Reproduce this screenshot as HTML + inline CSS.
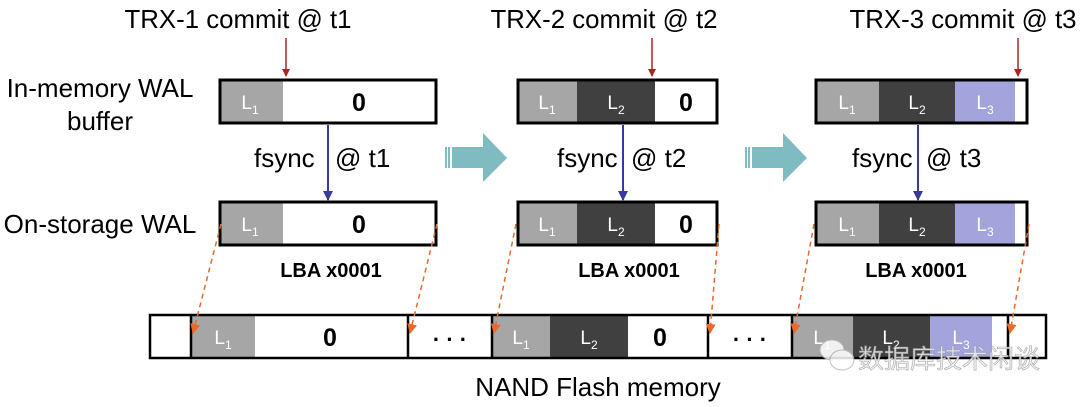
<!DOCTYPE html>
<html><head><style>
body{margin:0;background:#fff}
svg{display:block}
text{font-family:"Liberation Sans","Noto Sans CJK SC",sans-serif}
</style></head><body>
<svg width="1080" height="407" viewBox="0 0 1080 407" xmlns="http://www.w3.org/2000/svg">
<defs>
<marker id="ar" markerWidth="8" markerHeight="8" refX="7" refY="4" orient="auto" markerUnits="userSpaceOnUse"><path d="M0,0 L8,4 L0,8z" fill="#b22222"/></marker>
<marker id="ab" markerWidth="10" markerHeight="10" refX="9" refY="5" orient="auto" markerUnits="userSpaceOnUse"><path d="M0,0 L10,5 L0,10z" fill="#3a3a9a"/></marker>
<marker id="ao" markerWidth="10" markerHeight="10" refX="9" refY="5" orient="auto" markerUnits="userSpaceOnUse"><path d="M0,0 L10,5 L0,10z" fill="#e8692a"/></marker>
</defs>
<g font-size="26" fill="#000">
<text x="238" y="28" text-anchor="middle" textLength="227" lengthAdjust="spacingAndGlyphs">TRX-1 commit @ t1</text>
<text x="604" y="28" text-anchor="middle" textLength="227" lengthAdjust="spacingAndGlyphs">TRX-2 commit @ t2</text>
<text x="963" y="28" text-anchor="middle" textLength="227" lengthAdjust="spacingAndGlyphs">TRX-3 commit @ t3</text>
<text x="100" y="97" text-anchor="middle">In-memory WAL</text>
<text x="100" y="130" text-anchor="middle">buffer</text>
<text x="100" y="233" text-anchor="middle">On-storage WAL</text>
<text x="254" y="167">fsync</text><text x="335" y="167">@ t1</text>
<text x="557" y="167">fsync</text><text x="631" y="167">@ t2</text>
<text x="852" y="167">fsync</text><text x="926" y="167">@ t3</text>
<text x="598" y="396" text-anchor="middle">NAND Flash memory</text>
</g>
<g font-size="20" font-weight="bold" text-anchor="middle">
<text x="331" y="277">LBA x0001</text>
<text x="629" y="277">LBA x0001</text>
<text x="916" y="277">LBA x0001</text>
</g>
<line x1="286" y1="38" x2="286" y2="76" stroke="#b22222" stroke-width="1.5" marker-end="url(#ar)"/>
<line x1="652" y1="38" x2="652" y2="76" stroke="#b22222" stroke-width="1.5" marker-end="url(#ar)"/>
<line x1="1018" y1="38" x2="1018" y2="76" stroke="#b22222" stroke-width="1.5" marker-end="url(#ar)"/>
<line x1="328" y1="125" x2="328" y2="200" stroke="#3a3a9a" stroke-width="2" marker-end="url(#ab)"/>
<line x1="623" y1="125" x2="623" y2="200" stroke="#3a3a9a" stroke-width="2" marker-end="url(#ab)"/>
<line x1="918" y1="125" x2="918" y2="200" stroke="#3a3a9a" stroke-width="2" marker-end="url(#ab)"/>
<g fill="#7fbcc2">
<path d="M452,147 L483,147 L483,133 L507,158 L483,182 L483,168 L452,168z"/>
<rect x="445" y="147" width="2" height="21"/><rect x="448" y="147" width="2" height="21"/>
<path d="M752,147 L783,147 L783,133 L807,158 L783,182 L783,168 L752,168z"/>
<rect x="745" y="147" width="2" height="21"/><rect x="748" y="147" width="2" height="21"/>
</g>
<rect x="220" y="80" width="63" height="43" fill="#a6a6a6"/>
<rect x="220" y="80" width="216" height="43" fill="none" stroke="#000" stroke-width="3"/>
<rect x="220" y="202" width="63" height="43" fill="#a6a6a6"/>
<rect x="220" y="202" width="216" height="43" fill="none" stroke="#000" stroke-width="3"/>
<rect x="518" y="80" width="59" height="43" fill="#a6a6a6"/><rect x="577" y="80" width="78" height="43" fill="#404040"/>
<rect x="518" y="80" width="199" height="43" fill="none" stroke="#000" stroke-width="3"/>
<rect x="518" y="202" width="59" height="43" fill="#a6a6a6"/><rect x="577" y="202" width="78" height="43" fill="#404040"/>
<rect x="518" y="202" width="199" height="43" fill="none" stroke="#000" stroke-width="3"/>
<rect x="816" y="80" width="63" height="43" fill="#a6a6a6"/><rect x="879" y="80" width="76" height="43" fill="#404040"/><rect x="955" y="80" width="60" height="43" fill="#a4a4dc"/>
<rect x="816" y="80" width="211" height="43" fill="none" stroke="#000" stroke-width="3"/>
<rect x="816" y="202" width="63" height="43" fill="#a6a6a6"/><rect x="879" y="202" width="76" height="43" fill="#404040"/><rect x="955" y="202" width="60" height="43" fill="#a4a4dc"/>
<rect x="816" y="202" width="211" height="43" fill="none" stroke="#000" stroke-width="3"/>
<rect x="191" y="315" width="64" height="43" fill="#a6a6a6"/>
<rect x="492" y="315" width="58" height="43" fill="#a6a6a6"/><rect x="550" y="315" width="78" height="43" fill="#404040"/>
<rect x="792" y="315" width="61" height="43" fill="#a6a6a6"/><rect x="853" y="315" width="77" height="43" fill="#404040"/><rect x="930" y="315" width="62" height="43" fill="#a4a4dc"/>
<rect x="150" y="315" width="896" height="43" fill="none" stroke="#000" stroke-width="2.5"/>
<g stroke="#000" stroke-width="2.5">
<line x1="191" y1="315" x2="191" y2="358"/><line x1="408" y1="315" x2="408" y2="358"/>
<line x1="492" y1="315" x2="492" y2="358"/><line x1="708" y1="315" x2="708" y2="358"/>
<line x1="792" y1="315" x2="792" y2="358"/><line x1="1008" y1="315" x2="1008" y2="358"/>
</g>
<g font-size="19" fill="#fff" text-anchor="middle">
<text x="250" y="109">L<tspan font-size="12" dy="5">1</tspan></text>
<text x="250" y="231">L<tspan font-size="12" dy="5">1</tspan></text>
<text x="547" y="109">L<tspan font-size="12" dy="5">1</tspan></text>
<text x="616" y="109">L<tspan font-size="12" dy="5">2</tspan></text>
<text x="547" y="231">L<tspan font-size="12" dy="5">1</tspan></text>
<text x="616" y="231">L<tspan font-size="12" dy="5">2</tspan></text>
<text x="847" y="109">L<tspan font-size="12" dy="5">1</tspan></text>
<text x="917" y="109">L<tspan font-size="12" dy="5">2</tspan></text>
<text x="985" y="109">L<tspan font-size="12" dy="5">3</tspan></text>
<text x="847" y="231">L<tspan font-size="12" dy="5">1</tspan></text>
<text x="917" y="231">L<tspan font-size="12" dy="5">2</tspan></text>
<text x="985" y="231">L<tspan font-size="12" dy="5">3</tspan></text>
<text x="223" y="344">L<tspan font-size="12" dy="5">1</tspan></text>
<text x="521" y="344">L<tspan font-size="12" dy="5">1</tspan></text>
<text x="589" y="344">L<tspan font-size="12" dy="5">2</tspan></text>
<text x="822" y="344">L<tspan font-size="12" dy="5">1</tspan></text>
<text x="891" y="344">L<tspan font-size="12" dy="5">2</tspan></text>
<text x="961" y="344">L<tspan font-size="12" dy="5">3</tspan></text>
</g>
<g font-size="25" font-weight="bold" text-anchor="middle">
<text x="359" y="111">0</text><text x="359" y="233">0</text>
<text x="686" y="111">0</text><text x="686" y="233">0</text>
<text x="330" y="346">0</text><text x="660" y="346">0</text>
</g>
<g font-size="22" font-weight="bold" text-anchor="middle">
<text x="450" y="347">· · ·</text><text x="750" y="347">· · ·</text>
</g>
<g stroke="#e8692a" stroke-width="1.5" stroke-dasharray="5,4" fill="none">
<line x1="221" y1="224" x2="193" y2="333" marker-end="url(#ao)"/>
<line x1="437" y1="224" x2="410" y2="333" marker-end="url(#ao)"/>
<line x1="516" y1="224" x2="494" y2="333" marker-end="url(#ao)"/>
<line x1="719" y1="224" x2="710" y2="333" marker-end="url(#ao)"/>
<line x1="814" y1="224" x2="794" y2="333" marker-end="url(#ao)"/>
<line x1="1029" y1="224" x2="1010" y2="333" marker-end="url(#ao)"/>
</g>
<g opacity="0.85">
<ellipse cx="832" cy="350" rx="12" ry="10" fill="#fff" stroke="#bbb"/>
<ellipse cx="842" cy="360" rx="12" ry="10" fill="#fff" stroke="#bbb"/>
<text x="858" y="368" font-size="26" fill="#f0f0f0" stroke="#999" stroke-width="0.6">数据库技术闲谈</text>
</g>
</svg>
</body></html>
